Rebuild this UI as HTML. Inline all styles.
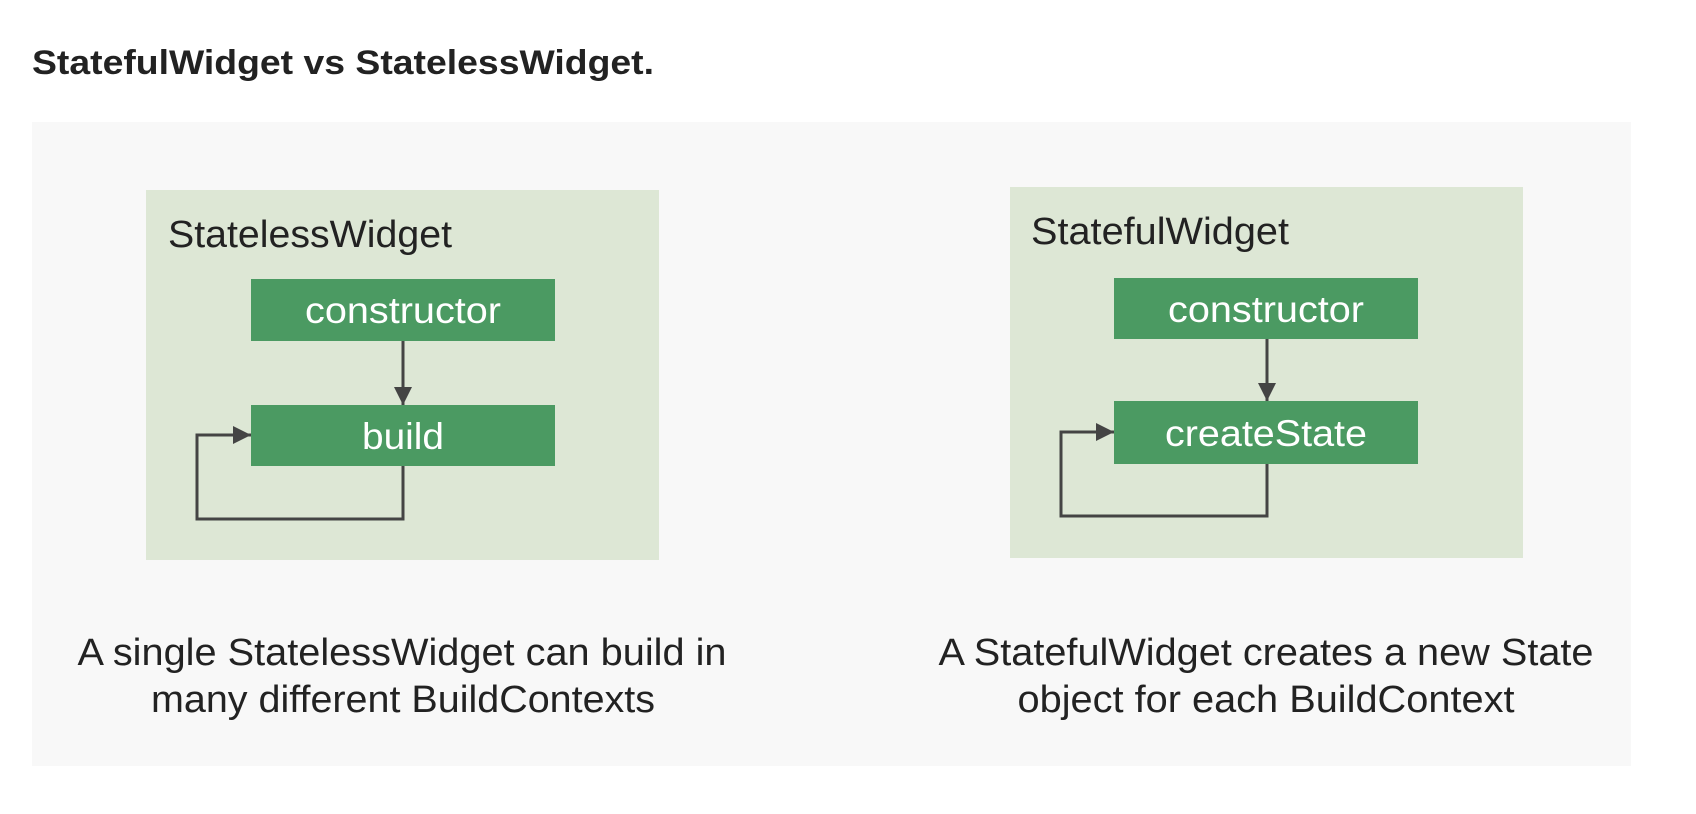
<!DOCTYPE html>
<html><head><meta charset="utf-8"><style>
html,body{margin:0;padding:0;background:#fff;}
svg{display:block;}
</style></head><body>
<svg width="1696" height="814" viewBox="0 0 1696 814" xmlns="http://www.w3.org/2000/svg" font-family="Liberation Sans, Arial, sans-serif">
<defs>
<marker id="ah2" viewBox="0 0 10 10" markerWidth="20" markerHeight="18" refX="10" refY="5" orient="auto" markerUnits="userSpaceOnUse">
<path d="M0,0 L10,5 L0,10 z" fill="#444"/>
</marker>
</defs>
<text x="32" y="74" font-size="34" font-weight="bold" fill="#222" textLength="622" lengthAdjust="spacingAndGlyphs">StatefulWidget vs StatelessWidget.</text>
<rect x="32" y="122" width="1599" height="644" fill="#f8f8f8"/>

<!-- left -->
<rect x="146" y="190" width="513" height="370" fill="#dde7d5"/>
<text x="168" y="247" font-size="38" fill="#222" textLength="284" lengthAdjust="spacingAndGlyphs">StatelessWidget</text>
<rect x="251" y="279" width="304" height="62" fill="#4b9a62"/>
<text x="403" y="323" font-size="37" fill="#fff" text-anchor="middle" textLength="196" lengthAdjust="spacingAndGlyphs">constructor</text>
<rect x="251" y="405" width="304" height="61" fill="#4b9a62"/>
<text x="403" y="449" font-size="37" fill="#fff" text-anchor="middle" textLength="82" lengthAdjust="spacingAndGlyphs">build</text>
<line x1="403" y1="341" x2="403" y2="405" stroke="#444" stroke-width="3" marker-end="url(#ah2)"/>
<polyline points="403,466 403,519 197,519 197,435 251,435" fill="none" stroke="#444" stroke-width="3" marker-end="url(#ah2)"/>
<text x="402" y="665" font-size="38" fill="#222" text-anchor="middle" textLength="649" lengthAdjust="spacingAndGlyphs">A single StatelessWidget can build in</text>
<text x="403" y="712" font-size="38" fill="#222" text-anchor="middle" textLength="504" lengthAdjust="spacingAndGlyphs">many different BuildContexts</text>

<!-- right -->
<rect x="1010" y="187" width="513" height="371" fill="#dde7d5"/>
<text x="1031" y="244" font-size="38" fill="#222" textLength="258" lengthAdjust="spacingAndGlyphs">StatefulWidget</text>
<rect x="1114" y="278" width="304" height="61" fill="#4b9a62"/>
<text x="1266" y="322" font-size="37" fill="#fff" text-anchor="middle" textLength="196" lengthAdjust="spacingAndGlyphs">constructor</text>
<rect x="1114" y="401" width="304" height="63" fill="#4b9a62"/>
<text x="1266" y="446" font-size="37" fill="#fff" text-anchor="middle" textLength="202" lengthAdjust="spacingAndGlyphs">createState</text>
<line x1="1267" y1="339" x2="1267" y2="401" stroke="#444" stroke-width="3" marker-end="url(#ah2)"/>
<polyline points="1267,464 1267,516 1061,516 1061,432 1114,432" fill="none" stroke="#444" stroke-width="3" marker-end="url(#ah2)"/>
<text x="1266" y="665" font-size="38" fill="#222" text-anchor="middle" textLength="655" lengthAdjust="spacingAndGlyphs">A StatefulWidget creates a new State</text>
<text x="1266" y="712" font-size="38" fill="#222" text-anchor="middle" textLength="497" lengthAdjust="spacingAndGlyphs">object for each BuildContext</text>
</svg>
</body></html>
